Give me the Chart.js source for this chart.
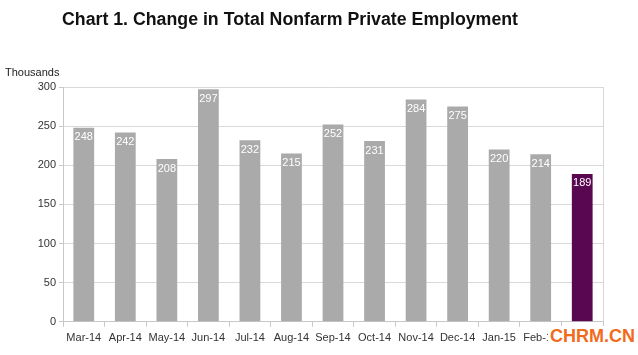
<!DOCTYPE html>
<html>
<head>
<meta charset="utf-8">
<script src="https://cdn.jsdelivr.net/npm/chart.js@4/dist/chart.umd.min.js"></script>
<style>
  html, body { margin: 0; padding: 0; background: #fff; }
  #wrap { position: relative; width: 638px; height: 355px; overflow: hidden; }
  #title { position: absolute; left: 62px; top: 9px; font: bold 18px "Liberation Sans", Arial, sans-serif; color: #111; white-space: nowrap; transform-origin: 0 0; }
  #unit { position: absolute; left: 5px; top: 66px; font: 11px "Liberation Sans", Arial, sans-serif; color: #222; }
  #wm { position: absolute; left: 548px; top: 326px; font: bold 18px "Liberation Sans", Arial, sans-serif; color: #f26a1b; white-space: nowrap; background: #fff; padding: 0 2px 0 2px; }
  canvas { position: absolute; left: 0; top: 0; }
</style>
</head>
<body>
<div id="wrap">
  <canvas id="c" width="638" height="355"></canvas>
  <div id="title">Chart 1. Change in Total Nonfarm Private Employment</div>
  <div id="unit">Thousands</div>
  <div id="wm">CHRM.CN</div>
</div>
<script>
const categories = ["Mar-14","Apr-14","May-14","Jun-14","Jul-14","Aug-14","Sep-14","Oct-14","Nov-14","Dec-14","Jan-15","Feb-15","Mar-15"];
const values = [248, 242, 208, 297, 232, 215, 252, 231, 284, 275, 220, 214, 189];
const yTicks = [0, 50, 100, 150, 200, 250, 300];

const barColors = values.map((v, i) => i === values.length - 1 ? "#5a0752" : "#a9aaa9");

const labelPlugin = {
  id: "barLabels",
  afterDatasetsDraw(chart) {
    const ctx = chart.ctx;
    const meta = chart.getDatasetMeta(0);
    ctx.save();
    ctx.font = "11px 'Liberation Sans', Arial, sans-serif";
    ctx.fillStyle = "#ffffff";
    ctx.textAlign = "center";
    ctx.textBaseline = "top";
    meta.data.forEach((el, i) => {
      ctx.fillText(String(values[i]), el.x, el.y + 4);
    });
    ctx.restore();
  }
};

const borderPlugin = {
  id: "rightBorder",
  beforeDatasetsDraw(chart) {
    const a = chart.chartArea, ctx = chart.ctx;
    ctx.save();
    ctx.strokeStyle = "#d6d6d6";
    ctx.lineWidth = 1;
    ctx.beginPath();
    ctx.moveTo(Math.round(a.right) + 0.5, a.top);
    ctx.lineTo(Math.round(a.right) + 0.5, a.bottom);
    ctx.stroke();
    ctx.restore();
  }
};

new Chart(document.getElementById("c"), {
  type: "bar",
  data: {
    labels: categories,
    datasets: [{
      data: values,
      backgroundColor: barColors,
      categoryPercentage: 1.0,
      barPercentage: 0.5
    }]
  },
  options: {
    responsive: false,
    animation: false,
    events: [],
    layout: { padding: { top: 87, right: 35, bottom: 5, left: 0 } },
    plugins: { legend: { display: false }, tooltip: { enabled: false }, title: { display: false } },
    scales: {
      x: {
        grid: { display: true, drawOnChartArea: false, offset: true, tickLength: 5, color: "#c8c8c8" },
        border: { color: "#c8c8c8" },
        ticks: { color: "#333", font: { family: "'Liberation Sans', Arial, sans-serif", size: 11 }, maxRotation: 0, autoSkip: false, padding: 5 }
      },
      y: {
        min: 0, max: 300,
        afterBuildTicks(scale) { scale.ticks = yTicks.map(v => ({ value: v })); },
        afterFit(scale) { scale.width = 63; },
        grid: { color: "#d9d9d9", tickLength: 4, tickColor: "#c8c8c8" },
        border: { color: "#c8c8c8" },
        ticks: { color: "#333", font: { family: "'Liberation Sans', Arial, sans-serif", size: 11 }, padding: 3 }
      }
    }
  },
  plugins: [labelPlugin, borderPlugin]
});

// fit title width to reference (~456px)
const t = document.getElementById("title");
const w = t.getBoundingClientRect().width;
t.style.transform = "scaleX(" + (456 / w) + ")";
</script>
</body>
</html>
